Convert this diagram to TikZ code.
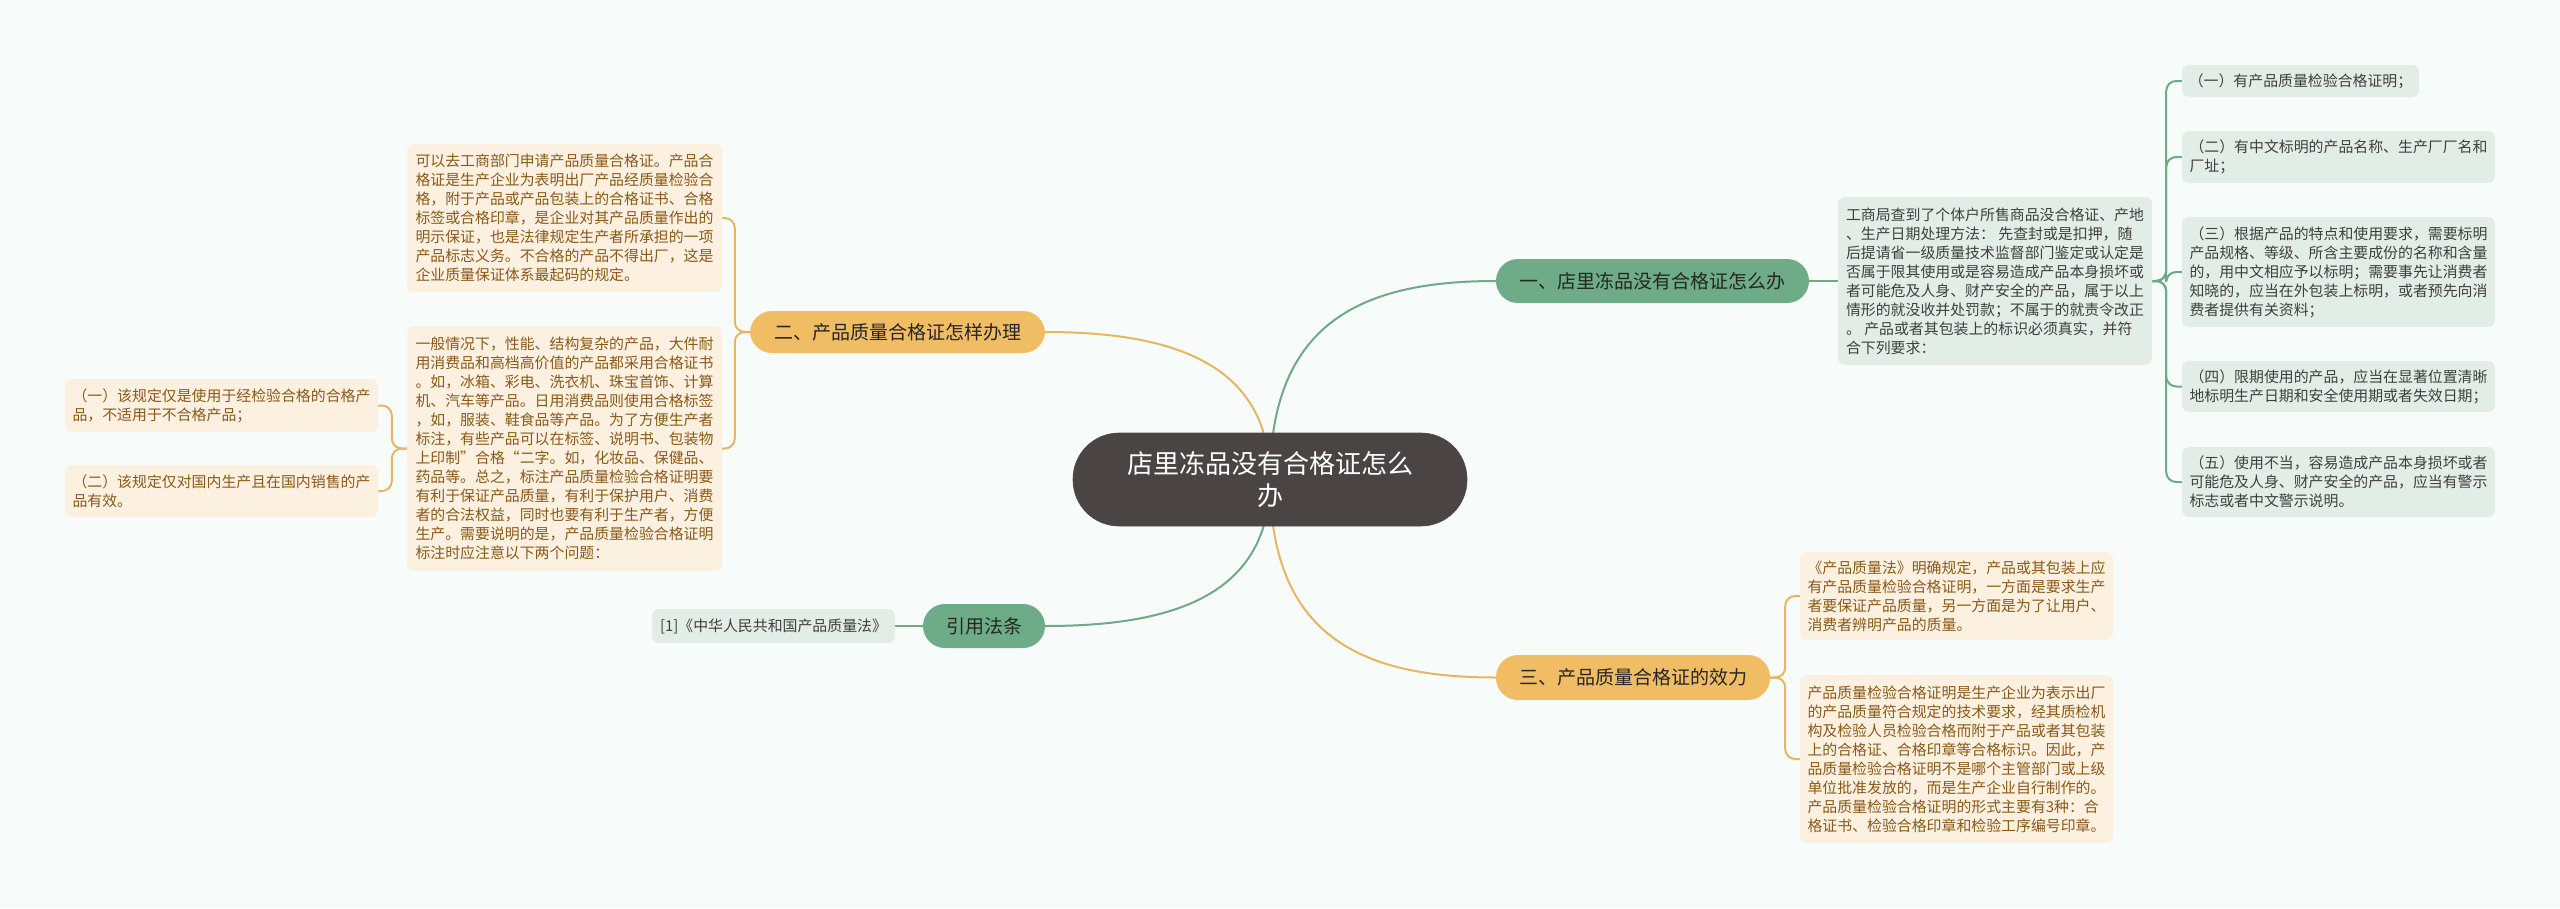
\documentclass[tikz,border=0pt]{standalone}
\usepackage{fontspec}
\newfontfamily\cjk{Noto Sans CJK SC}
\usetikzlibrary{backgrounds}
\pgfdeclarelayer{conn}
\pgfsetlayers{background,conn,main}
\definecolor{bgc}{HTML}{F7FCFB}
\definecolor{gline}{HTML}{6FA986}
\definecolor{oline}{HTML}{E8B562}
\definecolor{gfill}{HTML}{6DAC86}
\definecolor{ofill}{HTML}{F0BC64}
\definecolor{glfill}{HTML}{E3EDE7}
\definecolor{olfill}{HTML}{FCF0E1}
\definecolor{gtext}{HTML}{3E403F}
\definecolor{otext}{HTML}{8A5A18}
\definecolor{ctr}{HTML}{4A4544}
\tikzset{
  leafo/.style={fill=olfill, rounded corners=7pt, inner sep=0pt, align=left, text=otext,
    font=\cjk\fontsize{14.9}{19}\selectfont},
  leafg/.style={fill=glfill, rounded corners=7pt, inner sep=0pt, align=left, text=gtext,
    font=\cjk\fontsize{14.9}{19}\selectfont},
  brg/.style={fill=gfill, rounded corners=22pt, inner sep=0pt, text=black!85,
    font=\cjk\fontsize{19}{23}\selectfont},
  bro/.style={fill=ofill, rounded corners=22pt, inner sep=0pt, text=black!85,
    font=\cjk\fontsize{19}{23}\selectfont},
  gl/.style={draw=gline, line width=2pt},
  ol/.style={draw=oline, line width=2pt},
}
\begin{document}
\begin{tikzpicture}[x=1pt,y=-1pt]
\begin{pgfonlayer}{background}
\fill[bgc] (0,0) rectangle (2560,908);
\end{pgfonlayer}
\useasboundingbox (0,0) rectangle (2560,908);

% central node
\node[fill=ctr, draw=black!70, line width=0.6pt, rounded corners=46pt, minimum width=394pt, minimum height=93pt, inner sep=0pt, text=white, align=center, font=\cjk\fontsize{26}{32}\selectfont] (c) at (1270,479.5) {店里冻品没有合格证怎么\\办};

% branches
\node[brg, minimum width=313pt, minimum height=44pt] (b1) at (1652.5,281) {一、店里冻品没有合格证怎么办};
\node[bro, minimum width=295pt, minimum height=42pt] (b2) at (897.5,332) {二、产品质量合格证怎样办理};
\node[bro, minimum width=274pt, minimum height=45pt] (b3) at (1633,677.5) {三、产品质量合格证的效力};
\node[brg, minimum width=122pt, minimum height=44pt] (r) at (984,626) {引用法条};

% green leaves
\node[leafg, minimum width=314pt, minimum height=168pt] (g0) at (1995,281) {工商局查到了个体户所售商品没合格证、产地\\、生产日期处理方法： 先查封或是扣押，随\\后提请省一级质量技术监督部门鉴定或认定是\\否属于限其使用或是容易造成产品本身损坏或\\者可能危及人身、财产安全的产品，属于以上\\情形的就没收并处罚款；不属于的就责令改正\\。 产品或者其包装上的标识必须真实，并符\\合下列要求：};
\node[leafg, minimum width=237pt, minimum height=32pt] (g1) at (2300.5,81) {（一）有产品质量检验合格证明；};
\node[leafg, minimum width=313pt, minimum height=52pt] (g2) at (2338.5,157) {（二）有中文标明的产品名称、生产厂厂名和\\厂址；};
\node[leafg, minimum width=313pt, minimum height=110pt] (g3) at (2338.5,272) {（三）根据产品的特点和使用要求，需要标明\\产品规格、等级、所含主要成份的名称和含量\\的，用中文相应予以标明；需要事先让消费者\\知晓的，应当在外包装上标明，或者预先向消\\费者提供有关资料；};
\node[leafg, minimum width=313pt, minimum height=51pt] (g4) at (2338.5,386.5) {（四）限期使用的产品，应当在显著位置清晰\\地标明生产日期和安全使用期或者失效日期；};
\node[leafg, minimum width=313pt, minimum height=70pt] (g5) at (2338.5,482) {（五）使用不当，容易造成产品本身损坏或者\\可能危及人身、财产安全的产品，应当有警示\\标志或者中文警示说明。};
\node[leafg, minimum width=243pt, minimum height=34pt] (l1) at (773.5,626) {[1]《中华人民共和国产品质量法》};

% orange leaves
\node[leafo, minimum width=313pt, minimum height=88pt] (c1) at (1956.5,596) {《产品质量法》明确规定，产品或其包装上应\\有产品质量检验合格证明，一方面是要求生产\\者要保证产品质量，另一方面是为了让用户、\\消费者辨明产品的质量。};
\node[leafo, minimum width=313pt, minimum height=168pt] (c2) at (1956.5,759) {产品质量检验合格证明是生产企业为表示出厂\\的产品质量符合规定的技术要求，经其质检机\\构及检验人员检验合格而附于产品或者其包装\\上的合格证、合格印章等合格标识。因此，产\\品质量检验合格证明不是哪个主管部门或上级\\单位批准发放的，而是生产企业自行制作的。\\产品质量检验合格证明的形式主要有3种：合\\格证书、检验合格印章和检验工序编号印章。};
\node[leafo, minimum width=315pt, minimum height=148pt] (a) at (564.5,218) {可以去工商部门申请产品质量合格证。产品合\\格证是生产企业为表明出厂产品经质量检验合\\格，附于产品或产品包装上的合格证书、合格\\标签或合格印章，是企业对其产品质量作出的\\明示保证，也是法律规定生产者所承担的一项\\产品标志义务。不合格的产品不得出厂，这是\\企业质量保证体系最起码的规定。};
\node[leafo, minimum width=315pt, minimum height=245pt] (b) at (564.5,448.5) {一般情况下，性能、结构复杂的产品，大件耐\\用消费品和高档高价值的产品都采用合格证书\\。如，冰箱、彩电、洗衣机、珠宝首饰、计算\\机、汽车等产品。日用消费品则使用合格标签\\，如，服装、鞋食品等产品。为了方便生产者\\标注，有些产品可以在标签、说明书、包装物\\上印制”合格“二字。如，化妆品、保健品、\\药品等。总之，标注产品质量检验合格证明要\\有利于保证产品质量，有利于保护用户、消费\\者的合法权益，同时也要有利于生产者，方便\\生产。需要说明的是，产品质量检验合格证明\\标注时应注意以下两个问题：};
\node[leafo, minimum width=313pt, minimum height=53pt] (bb1) at (221.5,405.5) {（一）该规定仅是使用于经检验合格的合格产\\品，不适用于不合格产品；};
\node[leafo, minimum width=313pt, minimum height=52pt] (bb2) at (221.5,491) {（二）该规定仅对国内生产且在国内销售的产\\品有效。};

\begin{pgfonlayer}{conn}
% center to branches
\draw[gl] (c.center) .. controls +(0,-160) and +(-130,0) .. (b1.west);
\draw[ol] (c.center) .. controls +(0,-120) and +(120,0) .. (b2.east);
\draw[gl] (c.center) .. controls +(0,120) and +(120,0) .. (r.east);
\draw[ol] (c.center) .. controls +(0,160) and +(-130,0) .. (b3.west);
% branch 1
\draw[gl] (b1.east) -- (g0.west);
\foreach \n in {g1,g2,g3,g4,g5}
  \draw[gl, rounded corners=10pt] (g0.east) -- ++(14,0) |- (\n.west);
% branch 3
\foreach \n in {c1,c2}
  \draw[ol, rounded corners=10pt] (b3.east) -- ++(15,0) |- (\n.west);
% branch 2
\foreach \n in {a,b}
  \draw[ol, rounded corners=10pt] (b2.west) -- ++(-15,0) |- (\n.east);
\foreach \n in {bb1,bb2}
  \draw[ol, rounded corners=10pt] (b.west) -- ++(-15,0) |- (\n.east);
% reference
\draw[gl] (r.west) -- (l1.east);
\end{pgfonlayer}
\end{tikzpicture}
\end{document}
